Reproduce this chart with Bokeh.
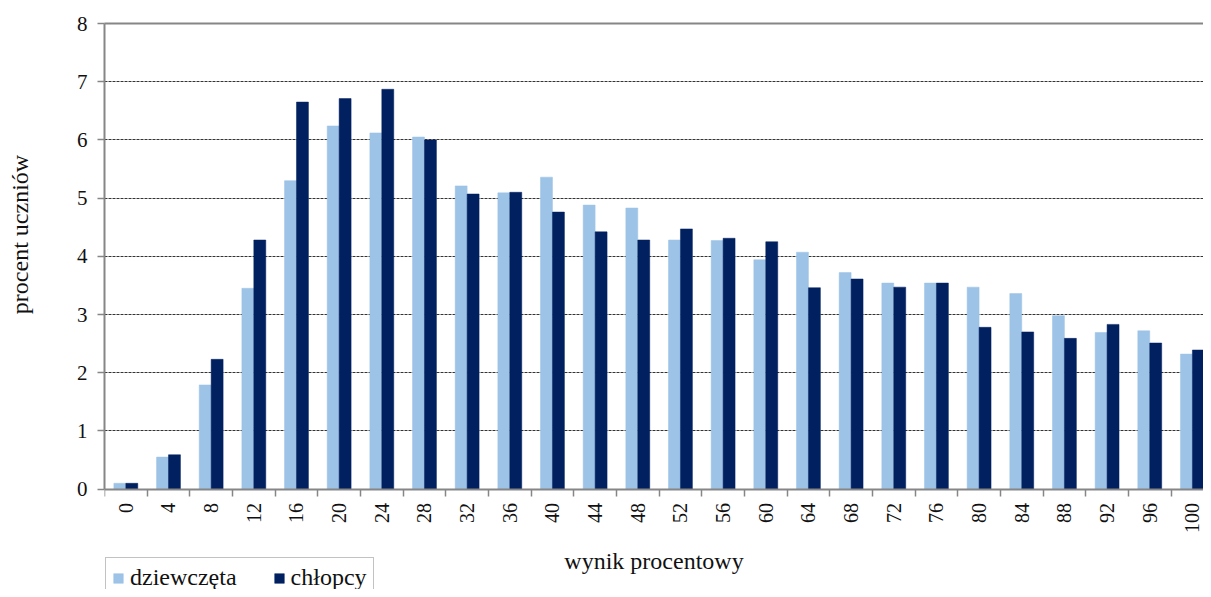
import numpy as np
from bokeh.plotting import figure
from bokeh.models import (Range1d, FixedTicker, LinearAxis, Legend, LegendItem, ColumnDataSource)
from bokeh.embed import file_html
from bokeh.resources import INLINE

categories = ["0", "4", "8", "12", "16", "20", "24", "28", "32", "36", "40", "44", "48",
              "52", "56", "60", "64", "68", "72", "76", "80", "84", "88", "92", "96", "100"]
dziewczeta = [0.10, 0.55, 1.79, 3.45, 5.30, 6.24, 6.12, 6.05, 5.21, 5.09, 5.36, 4.88, 4.83,
              4.28, 4.27, 3.94, 4.07, 3.72, 3.54, 3.54, 3.47, 3.36, 2.98, 2.69, 2.72, 2.32]
chlopcy = [0.10, 0.59, 2.23, 4.28, 6.65, 6.71, 6.87, 6.00, 5.07, 5.10, 4.76, 4.42, 4.28,
           4.47, 4.31, 4.25, 3.46, 3.61, 3.47, 3.54, 2.78, 2.70, 2.59, 2.83, 2.51, 2.39]
y_ticks = [0, 1, 2, 3, 4, 5, 6, 7, 8]

LIGHT = "#9DC3E6"
DARK = "#002060"
GRAY = "#868686"
FONT = "Liberation Serif"
TXT = "#111111"

idx = np.arange(len(categories))
bw = 0.28
src = ColumnDataSource(dict(xg=idx - bw / 2, xb=idx + bw / 2, g=dziewczeta, b=chlopcy))

# frame runs to the bottom edge; the x axis is pinned at y = 0 inside it
p = figure(width=1203, height=589, output_backend="svg", toolbar_location=None,
           x_range=Range1d(-0.5, 25.26), y_range=Range1d(-1.725, 8),
           min_border_left=104, min_border_right=0, min_border_top=23, min_border_bottom=0,
           background_fill_color="white", border_fill_color="white")
p.outline_line_color = None

r1 = p.vbar(x="xg", top="g", bottom=0, width=bw, source=src, fill_color=LIGHT, line_color=LIGHT, line_width=0.5)
r2 = p.vbar(x="xb", top="b", bottom=0, width=bw, source=src, fill_color=DARK, line_color=DARK, line_width=0.5)

# x axis
xa = p.xaxis[0]
xa.fixed_location = 0
xa.ticker = FixedTicker(ticks=list(idx), minor_ticks=list(idx - 0.5) + [len(categories) - 0.5])
xa.major_label_overrides = {int(i): c for i, c in zip(idx, categories)}
xa.major_label_orientation = np.pi / 2
xa.major_tick_line_color = None
xa.minor_tick_line_color = GRAY
xa.minor_tick_out = 7
xa.minor_tick_in = 0
xa.minor_tick_line_width = 1.5
xa.axis_line_color = GRAY
xa.axis_line_width = 2
xa.major_label_text_font = FONT
xa.major_label_text_font_size = "20px"
xa.major_label_text_color = TXT
xa.major_label_standoff = 7
xa.axis_label = "wynik procentowy"
xa.axis_label_text_font = FONT
xa.axis_label_text_font_size = "24px"
xa.axis_label_text_font_style = "normal"
xa.axis_label_text_color = TXT
xa.axis_label_standoff = 11

# y axis
ya = p.yaxis[0]
ya.bounds = (0, 8)
ya.ticker = FixedTicker(ticks=y_ticks)
ya.minor_tick_line_color = None
ya.major_tick_out = 7
ya.major_tick_in = 0
ya.major_tick_line_color = GRAY
ya.major_tick_line_width = 1.5
ya.axis_line_color = GRAY
ya.axis_line_width = 2
ya.major_label_text_font = FONT
ya.major_label_text_font_size = "21px"
ya.major_label_text_color = TXT
ya.major_label_standoff = 10

# y title on a bare second axis; leading em spaces lift it above the frame centre
yt_axis = LinearAxis(ticker=FixedTicker(ticks=[]))
yt_axis.axis_line_color = None
yt_axis.major_tick_line_color = None
yt_axis.minor_tick_line_color = None
yt_axis.major_label_text_font_size = "0px"
yt_axis.axis_label = "\u2003" * 6 + "procent uczniów"
yt_axis.axis_label_text_font = FONT
yt_axis.axis_label_text_font_size = "24px"
yt_axis.axis_label_text_font_style = "normal"
yt_axis.axis_label_text_color = TXT
yt_axis.axis_label_standoff = 41
p.add_layout(yt_axis, "left")

# top border
top_axis = LinearAxis(ticker=FixedTicker(ticks=[]))
top_axis.major_tick_line_color = None
top_axis.minor_tick_line_color = None
top_axis.major_label_text_font_size = "0px"
top_axis.axis_line_color = GRAY
top_axis.axis_line_width = 2
p.add_layout(top_axis, "above")

# grid
p.xgrid.grid_line_color = None
p.ygrid.ticker = FixedTicker(ticks=y_ticks[1:-1])
p.ygrid.grid_line_color = "#333333"
p.ygrid.grid_line_dash = "3 1"
p.ygrid.grid_line_width = 1

legend = Legend(items=[LegendItem(label="dziewczęta", renderers=[r1]),
                       LegendItem(label="chłopcy", renderers=[r2])])
legend.orientation = "horizontal"
legend.location = (1, -9)
legend.padding = 6
legend.spacing = 36
legend.glyph_width = 12
legend.glyph_height = 12
legend.label_standoff = 6
legend.label_text_font = FONT
legend.label_text_font_size = "24px"
legend.label_text_font_style = "normal"
legend.label_text_color = TXT
legend.border_line_color = GRAY
legend.border_line_width = 1.5
legend.background_fill_color = "white"
legend.background_fill_alpha = 1.0
p.add_layout(legend)

open("out.html", "w").write(file_html(p, INLINE))
